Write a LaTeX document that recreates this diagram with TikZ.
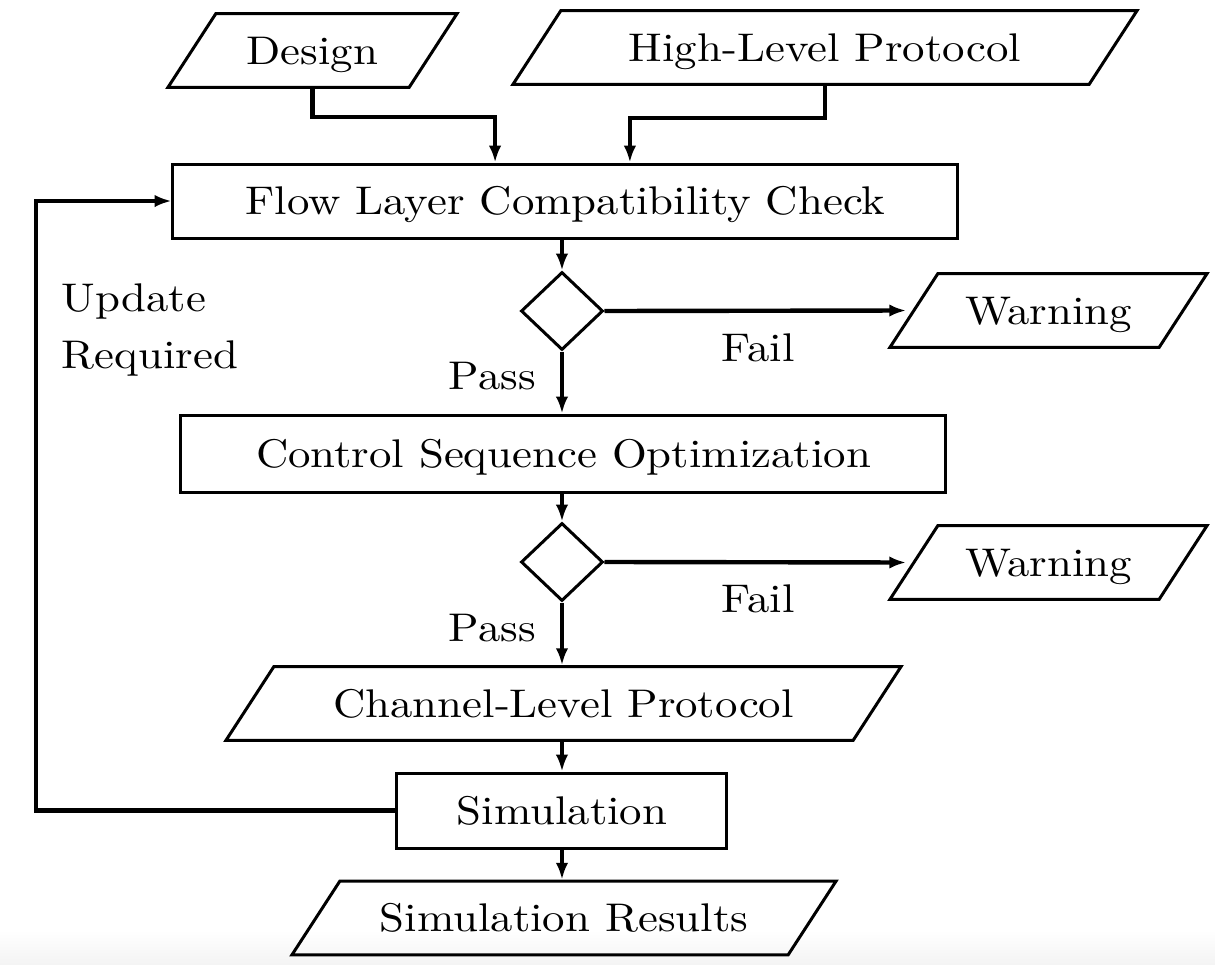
\documentclass[tikz,border=0pt]{standalone}
\usepackage{graphicx}
\usetikzlibrary{shapes.geometric,arrows.meta,calc}

% slightly widened text
\newcommand{\widetxt}[1]{\scalebox{1.12}[1]{#1}}

\begin{document}
\begin{tikzpicture}[x=0.25pt,y=-0.25pt,
  every node/.style={font=\fontsize{10}{12}\selectfont},
  boxnode/.style={draw,line width=0.75pt,rectangle,inner sep=0pt,
    text height=6.94pt,text depth=0pt},
  ionode/.style={draw,line width=0.75pt,trapezium,trapezium left angle=57,
    trapezium right angle=123,trapezium stretches body,inner xsep=0pt,
    inner ysep=5.73pt,text height=6.94pt,text depth=0pt},
  decnode/.style={draw,line width=0.75pt,diamond,inner sep=0pt,
    minimum width=20.5pt,minimum height=19.5pt},
  arr/.style={line width=1.1pt,-{Latex[length=4.2pt,width=3.1pt]}},
  lbl/.style={inner sep=0pt}
]
\useasboundingbox (0,0) rectangle (1215,965);
\fill[top color=white,bottom color=gray!9] (0,930) rectangle (1215,965);

% inputs
\node[ionode,minimum width=72.25pt] (design) at (312.5,50.5) {\widetxt{Design}};
\node[ionode,minimum width=156pt] (hlp) at (825,47.5) {\widetxt{High-Level Protocol}};

% main column
\node[boxnode,minimum width=196.25pt,minimum height=18.5pt] (flow) at (565.5,201) {\widetxt{Flow Layer Compatibility Check}};
\node[decnode] (d1) at (562,311) {};
\node[ionode,minimum width=79.25pt] (w1) at (1048.5,310.5) {\widetxt{Warning}};
\node[boxnode,minimum width=191.25pt,minimum height=19.25pt] (cso) at (563.5,453.5) {\widetxt{Control Sequence Optimization}};
\node[decnode] (d2) at (562,562) {};
\node[ionode,minimum width=79.25pt] (w2) at (1048.5,562.5) {\widetxt{Warning}};
\node[ionode,minimum width=168.75pt] (clp) at (563.5,703.5) {\widetxt{Channel-Level Protocol}};
\node[boxnode,minimum width=82.5pt,minimum height=18.75pt] (sim) at (562,810.5) {\widetxt{Simulation}};
\node[ionode,minimum width=136pt] (sres) at (564,918) {\widetxt{Simulation Results}};

\node[lbl,anchor=west,align=left,font=\fontsize{10}{14.25}\selectfont] (upd) at (61,330) {\widetxt{Update}\\\widetxt{Required}};
\coordinate (loopx) at (36,0);

% connectors
\draw[arr] (design.south) -- ++(0,28) -| ([xshift=-17.6pt]flow.north);
\draw[arr] (hlp.south) -- ++(0,32) -| ([xshift=16.1pt]flow.north);
\draw[arr] (flow.south -| d1.north) -- (d1.north);
\draw[arr,shorten >=1.5pt] (d1.east) -- (w1.west) node[midway,below=1.75pt] {\widetxt{Fail}};
\draw[arr] (d1.south) -- (d1.south |- cso.north) node[pos=0.4,left=2.7pt] {\widetxt{Pass}};
\draw[arr] (cso.south -| d2.north) -- (d2.north);
\draw[arr,shorten >=1.5pt] (d2.east) -- (w2.west) node[midway,below=1.75pt] {\widetxt{Fail}};
\draw[arr] (d2.south) -- (d2.south |- clp.north) node[pos=0.4,left=2.7pt] {\widetxt{Pass}};
\draw[arr] (clp.south -| sim.north) -- (sim.north);
\draw[arr] (sim.south) -- (sim.south |- sres.north);
\draw[arr] (sim.west) -- (sim.west -| loopx) |- (flow.west);
\end{tikzpicture}
\end{document}
